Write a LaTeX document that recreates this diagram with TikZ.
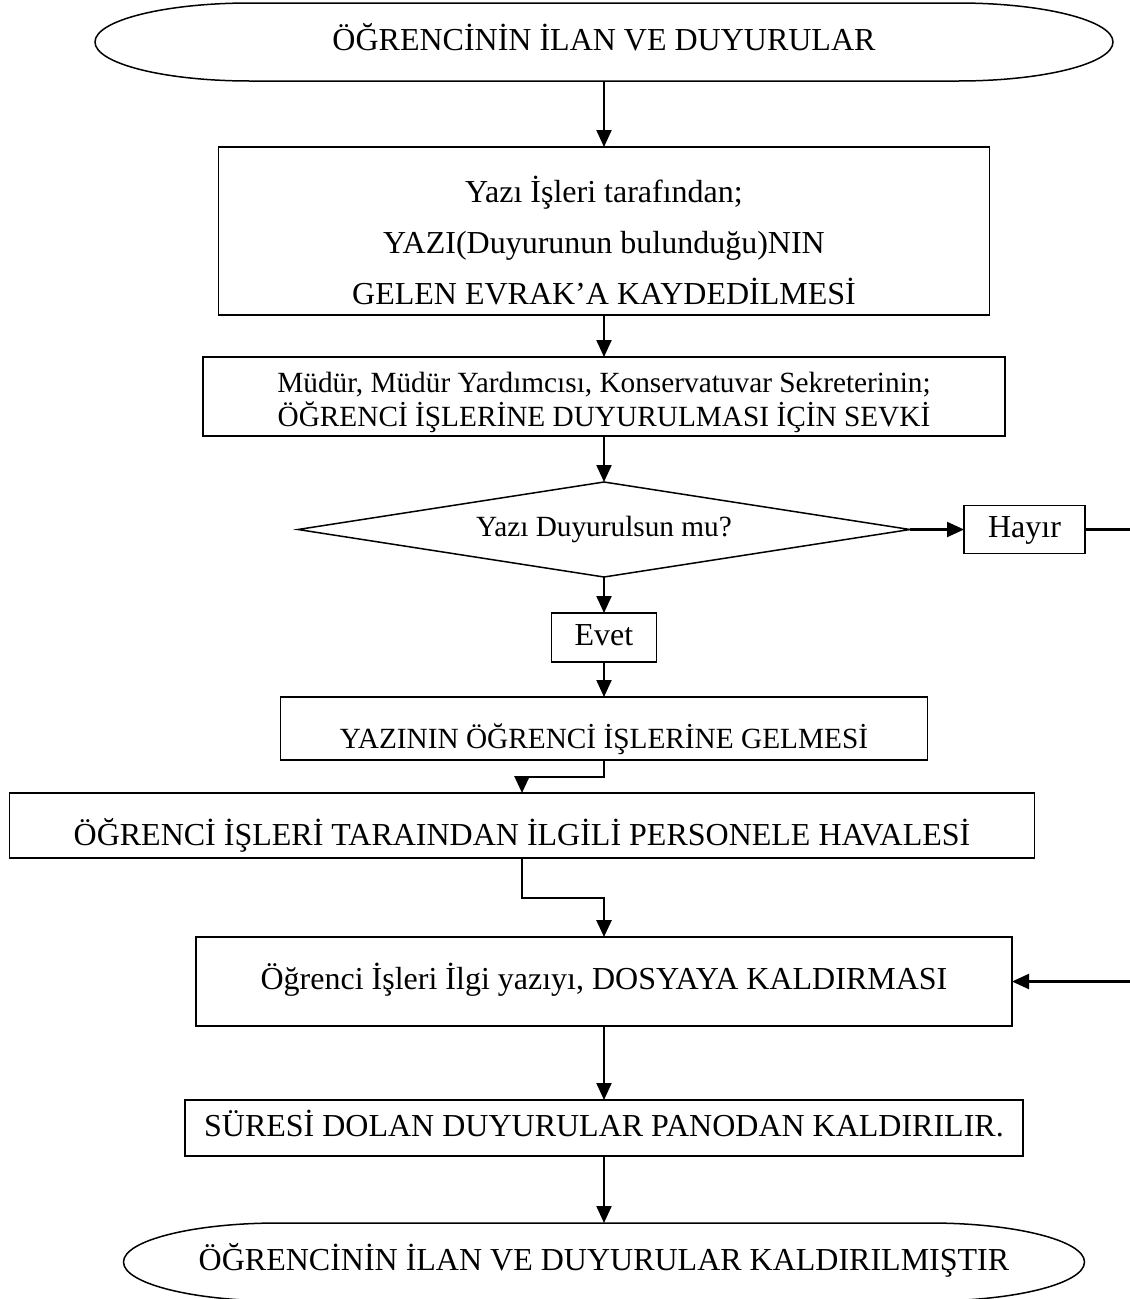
\documentclass[tikz,border=0pt]{standalone}
\usepackage{fontspec}
\setmainfont{Liberation Serif}
\usetikzlibrary{arrows.meta,positioning,shapes.geometric}

\newcommand{\bigtxt}{\fontsize{32}{37}\selectfont}
\newcommand{\smalltxt}{\fontsize{29.3}{34}\selectfont}

\begin{document}
\begin{tikzpicture}[x=1pt,y=-1pt,->,>={Triangle[length=17pt,width=15pt]},
                    line width=2.2pt,every node/.style={outer sep=0pt},
                    frame/.style={draw,rectangle,line width=1.5pt,inner sep=0pt,font=\bigtxt},
                    box/.style={frame,text height=24pt,text depth=8pt},
                    small/.style={font=\smalltxt},
                    lowtext/.style={text height=46pt,text depth=6pt},
                    term/.style={rectangle,inner sep=0pt,minimum height=78pt,font=\bigtxt,
                                 text height=24pt,text depth=8pt},
                    decision/.style={draw,diamond,aspect=6.44,line width=1.5pt,
                                     inner sep=0pt,font=\smalltxt},
                    elbow/.style={line width=2.8pt}]

  \useasboundingbox (0,0) rectangle (1130,1299);

  \node[term,minimum width=1018pt] (start) at (604,42) {ÖĞRENCİNİN İLAN VE DUYURULAR};
  \node[frame,align=center,font=\fontsize{32}{51}\selectfont,
        minimum width=771pt,minimum height=168pt] (kayit) [below=66pt of start]
        {\rule{0pt}{45pt}Yazı İşleri tarafından;\\
         YAZI(Duyurunun bulunduğu)NIN\\
         GELEN EVRAK’A KAYDEDİLMESİ};
  \node[frame,small,align=center,minimum width=802pt,minimum height=79pt] (sevk) [below=42pt of kayit]
        {\rule{0pt}{32pt}Müdür, Müdür Yardımcısı, Konservatuvar Sekreterinin;\\
         ÖĞRENCİ İŞLERİNE DUYURULMASI İÇİN SEVKİ};
  \node[decision,minimum width=612pt,minimum height=95pt] (karar) [below=46pt of sevk] {Yazı Duyurulsun mu?};
  \node[box,minimum width=121pt,minimum height=48pt] (hayir) [right=54pt of karar] {Hayır};
  \node[box,minimum width=105pt,minimum height=49pt] (evet)  [below=36pt of karar] {Evet};
  \node[box,small,lowtext,minimum width=647pt,minimum height=63pt] (gelme) [below=35pt of evet]
        {YAZININ ÖĞRENCİ İŞLERİNE GELMESİ};
  \node[box,lowtext,minimum width=1025pt,minimum height=65pt] (havale) [below=33pt of gelme,xshift=-82pt]
        {ÖĞRENCİ İŞLERİ TARAINDAN İLGİLİ PERSONELE HAVALESİ};
  \node[box,minimum width=816pt,minimum height=89pt] (dosya) [below=177pt of gelme]
        {Öğrenci İşleri İlgi yazıyı, DOSYAYA KALDIRMASI};
  \node[box,minimum width=838pt,minimum height=56pt] (pano) [below=74pt of dosya]
        {SÜRESİ DOLAN DUYURULAR PANODAN KALDIRILIR.};
  \node[term,minimum width=961pt] (bitis) [below=67pt of pano]
        {ÖĞRENCİNİN İLAN VE DUYURULAR KALDIRILMIŞTIR};

  \foreach \n in {start,bitis}
    \draw[-,line width=1.5pt] ([xshift=155pt]\n.north west) -- ([xshift=-155pt]\n.north east)
      arc[start angle=90,end angle=-90,x radius=155pt,y radius=39pt]
      -- ([xshift=155pt]\n.south west)
      arc[start angle=270,end angle=90,x radius=155pt,y radius=39pt] -- cycle;

  \path (start) edge (kayit)
        (kayit) edge (sevk)
        (sevk)  edge (karar)
        (karar) edge (hayir)
        (karar) edge (evet)
        (evet)  edge (gelme)
        (dosya) edge (pano)
        (pano)  edge (bitis);

  \draw[elbow] (gelme.south) -- ++(0,17) -| (havale.north);
  \draw[elbow] (havale.south) -- ++(0,40) -| (dosya.north);
  \draw (hayir.east) -- ++(60,0) |- (dosya.east);
\end{tikzpicture}
\end{document}
